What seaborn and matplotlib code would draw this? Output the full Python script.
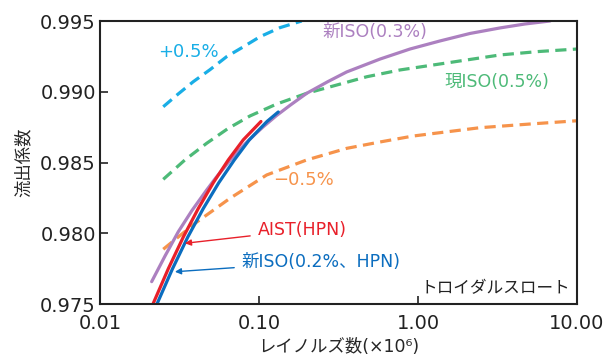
import pandas as pd
import matplotlib
matplotlib.use("Agg")
import matplotlib.pyplot as plt
import seaborn as sns

# estilo
sns.set_style("ticks")
plt.rcParams['font.family'] = ['DejaVu Sans', 'Noto Sans CJK JP']

# datos (Re x10^6, coeficiente de descarga)
re_plus = [0.025, 0.03094, 0.0386, 0.0492, 0.0626, 0.07932, 0.1015, 0.1355, 0.1856]
cd_plus = [0.98894, 0.98983, 0.99071, 0.99156, 0.99248, 0.99316, 0.99389, 0.99453, 0.99500]

re_iso_now = [0.025, 0.0342, 0.0469, 0.06383, 0.0878, 0.129, 0.1995, 0.476, 0.7705,
              1.243, 2.004, 3.279, 5.685, 10.0]
cd_iso_now = [0.98381, 0.98518, 0.98636, 0.98740, 0.98829, 0.98913, 0.98989, 0.99106, 0.99154,
              0.99189, 0.99224, 0.99260, 0.99284, 0.99302]

re_minus = [0.025, 0.03958, 0.0657, 0.1118, 0.1995, 0.356, 0.5768, 0.930, 2.454, 5.063, 10.0]
cd_minus = [0.97887, 0.98070, 0.98247, 0.98412, 0.98518, 0.98600, 0.98645, 0.98687, 0.98746,
            0.98772, 0.98795]

re_iso_new = [0.02114, 0.02564, 0.0311, 0.0379, 0.0469, 0.05365, 0.06667, 0.08283, 0.09437,
              0.106, 0.129, 0.1567, 0.1995, 0.2716, 0.356, 0.5768, 0.8906, 1.375, 2.124,
              3.279, 4.709, 6.765]
cd_iso_new = [0.97658, 0.97839, 0.98011, 0.98161, 0.98306, 0.98393, 0.98523, 0.98638, 0.98699,
              0.98751, 0.98832, 0.98904, 0.98989, 0.99072, 0.99140, 0.99231, 0.99302, 0.99359,
              0.99412, 0.99451, 0.99479, 0.99500]

re_aist = [0.02164, 0.02689, 0.03341, 0.04152, 0.05159, 0.0641, 0.07963, 0.1029]
cd_aist = [0.97505, 0.97749, 0.97973, 0.98175, 0.98357, 0.98518, 0.98660, 0.98790]

re_hpn = [0.02293, 0.02858, 0.03566, 0.04464, 0.05587, 0.06994, 0.0869, 0.1123, 0.1322]
cd_hpn = [0.97505, 0.97749, 0.97973, 0.98175, 0.98357, 0.98518, 0.98660, 0.98790, 0.98857]

x_ticks = [0.01, 0.1, 1, 10]
x_tick_labels = ['0.01', '0.10', '1.00', '10.00']
y_ticks = [0.975, 0.980, 0.985, 0.990, 0.995]
y_tick_labels = ['0.975', '0.980', '0.985', '0.990', '0.995']

# colores
c_cyan = '#19aee6'
c_green = '#4dba78'
c_orange = '#f6934b'
c_purple = '#ac80c0'
c_red = '#e8202a'
c_blue = '#0b6dbf'

fig = plt.figure(figsize=(6.07, 3.59), dpi=100)
ax = fig.add_axes([0.1647, 0.1532, 0.7859, 0.7883])
ax.set_xscale('log')

dash = (0, (3.5, 2.0))
series = [
    (re_iso_now, cd_iso_now, c_green, dash),
    (re_minus, cd_minus, c_orange, dash),
    (re_plus, cd_plus, c_cyan, dash),
    (re_iso_new, cd_iso_new, c_purple, '-'),
    (re_aist, cd_aist, c_red, '-'),
    (re_hpn, cd_hpn, c_blue, '-'),
]
for xs, ys, col, ls in series:
    d = pd.DataFrame({'Re': xs, 'Cd': ys})
    sns.lineplot(data=d, x='Re', y='Cd', color=col, linestyle=ls, linewidth=2.3, ax=ax)

ax.set_xlim(0.01, 10)
ax.set_ylim(0.975, 0.995)
ax.set_xticks(x_ticks)
ax.set_xticklabels(x_tick_labels)
ax.minorticks_off()
ax.set_yticks(y_ticks)
ax.set_yticklabels(y_tick_labels)
ax.tick_params(axis='both', direction='in', length=6, width=1.2, labelsize=14, colors='#222222')
ax.tick_params(axis='x', pad=7)
ax.tick_params(axis='y', pad=3)
for s in ax.spines.values():
    s.set_linewidth(1.5)
    s.set_color('#222222')

ax.set_xlabel('レイノルズ数(×10⁶)', fontsize=12.5, labelpad=4)
ax.set_ylabel('流出係数', fontsize=12.5, labelpad=5)

# etiquetas
ax.text(0.0232, 0.99281, '+0.5%', color=c_cyan, fontsize=13, va='center', ha='left')
ax.text(0.2516, 0.99424, '新ISO(0.3%)', color=c_purple, fontsize=12.5, va='center', ha='left')
ax.text(1.458, 0.99071, '現ISO(0.5%)', color=c_green, fontsize=12.5, va='center', ha='left')
ax.text(0.1225, 0.98376, '−0.5%', color=c_orange, fontsize=13, va='center', ha='left')
ax.annotate('AIST(HPN)', xy=(0.0342, 0.97929), xytext=(0.098, 0.98023),
            color=c_red, fontsize=12.5, va='center', ha='left',
            arrowprops=dict(arrowstyle='-|>', color=c_red, lw=1.0, mutation_scale=9, shrinkA=3, shrinkB=0))
ax.annotate('新ISO(0.2%、HPN)', xy=(0.0296, 0.97728), xytext=(0.0778, 0.97799),
            color=c_blue, fontsize=12.5, va='center', ha='left',
            arrowprops=dict(arrowstyle='-|>', color=c_blue, lw=1.0, mutation_scale=9, shrinkA=3, shrinkB=0))
ax.text(0.671, 0.0565, 'トロイダルスロート', transform=ax.transAxes, color='#222222',
        fontsize=12, va='center', ha='left')

fig.savefig('out.png', dpi=100)
